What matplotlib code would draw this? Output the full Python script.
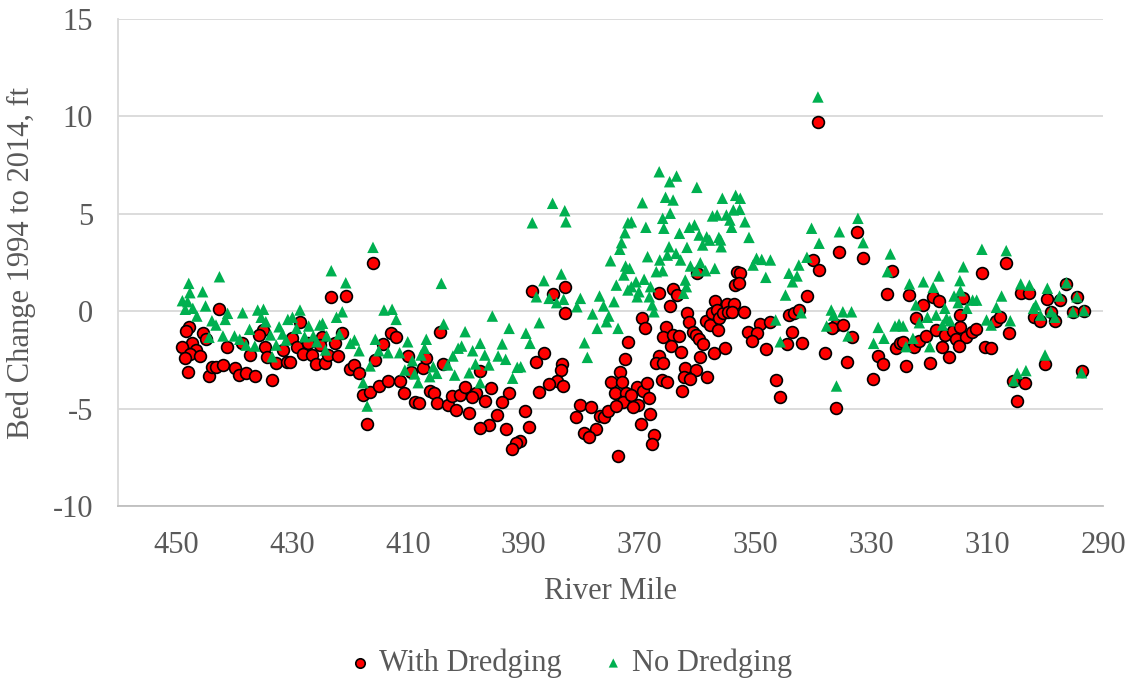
#!/usr/bin/env python3
"""Scatter of bed change 1994-2014 along the river, with and without dredging"""
import matplotlib
matplotlib.use("Agg")
import matplotlib.pyplot as plt

# With Dredging (red circles): river mile and bed change (ft)
with_mile = [
    442.6, 447.8, 448.2, 445.4, 444.9, 447.2, 448.9, 446.6, 447.6, 448.5,
    445.9, 441.2, 438.6, 437.2, 447.9, 444.3, 443.8, 443.1, 441.9, 439.9,
    439.1, 437.9, 436.4, 435.0, 435.7, 434.7, 434.3, 432.8, 431.5, 430.8,
    433.5,
    428.6, 429.9, 430.4, 429.2, 428.0, 426.5, 425.9, 424.2, 424.8, 425.2,
    423.8, 422.5, 422.1, 421.3, 427.2, 423.2, 420.7, 416.0, 412.9, 412.0,
    414.2, 415.6, 420.0, 419.2, 418.4, 417.7, 416.6, 415.0, 413.4, 411.4,
    410.7, 417.0, 410.0, 409.4, 408.8, 408.1, 407.4, 406.8, 406.2, 405.5,
    405.0, 404.4, 403.9, 403.1, 402.3, 401.6, 401.0,
    388.5, 385.0, 382.9, 382.9, 386.5, 387.9, 383.3, 383.6, 384.3, 385.6,
    383.2, 387.3, 397.5, 400.1, 398.3, 398.9, 396.7, 395.6, 392.5, 393.7,
    399.4, 394.6, 396.0, 397.5, 393.1, 389.8, 389.1, 390.6, 391.4, 392.0,
    372.0, 372.5, 373.4, 375.0, 373.1, 374.3, 372.4, 372.9, 380.3, 378.3,
    380.9, 376.9, 376.2, 375.5, 374.1, 377.5, 379.5, 378.8, 373.7,
    366.6, 364.2, 363.6, 364.8, 360.1, 369.5, 369.1, 361.8, 361.4, 365.5,
    366.0, 364.3, 363.2, 364.6, 360.8, 360.2, 359.7, 359.1, 362.8, 358.6,
    357.9, 357.4, 356.9, 356.6, 356.2, 356.5, 355.6, 354.9, 354.8, 357.1,
    355.3, 359.5, 366.6, 367.2, 366.0, 362.2, 360.3, 362.4, 361.3, 358.4,
    366.2, 365.2, 362.6, 370.4, 371.4, 369.4, 368.7, 368.4, 370.2, 371.1,
    368.1, 369.8, 367.5, 367.8,
    353.2, 352.6, 353.5, 352.8, 340.1, 339.0, 341.1, 353.7, 354.0, 352.0,
    349.2, 347.4, 351.2, 349.8, 350.5, 348.2, 344.2, 343.4, 342.5, 343.6,
    344.6, 341.9, 346.5, 345.7,
    339.2, 332.5, 335.5, 331.5, 326.5, 327.2, 323.4, 321.0, 319.4, 318.3,
    314.1, 314.6, 322.3, 336.1, 336.8, 334.9, 333.4, 338.0, 334.1, 328.9,
    328.0, 329.7, 325.7, 325.1, 324.5, 322.7, 324.0, 321.7, 320.5, 318.9,
    317.3, 315.9, 314.6, 315.3, 313.7, 314.9, 317.7, 316.6, 319.9, 336.0,
    306.7, 310.9, 312.6, 311.9, 308.4, 307.7, 306.2, 310.4, 309.3, 304.2,
    302.7, 299.6, 297.5, 296.3, 294.5, 301.9, 300.9, 299.0, 298.3, 295.1,
    293.3, 300.0, 305.5, 303.4, 304.8, 293.7,
]
with_bed = [
    0.1, -0.8, -1.0, -1.1, -1.44, -1.62, -1.82, -1.99, -2.2, -2.39,
    -2.3, -1.85, -1.62, -2.25, -3.1, -3.33, -2.85, -2.85, -2.76, -2.9,
    -3.28, -3.19, -3.31, -0.97, -1.22, -1.82, -2.34, -2.67, -1.99, -2.59,
    -3.53,
    -0.54, -1.39, -2.59, -1.85, -2.2, -2.25, -2.71, -2.64, -1.31, -1.74,
    -2.25, -1.62, -2.3, -1.13, -1.65, 0.74, 0.78, 2.46, -1.1, -1.34,
    -1.68, -2.5, -2.98, -2.76, -3.16, -4.3, -4.13, -3.84, -3.57, -3.57,
    -4.21, -5.79, -2.3, -3.11, -4.65, -4.73, -2.93, -2.42, -4.08, -4.21,
    -4.7, -1.05, -2.71, -4.81, -4.35, -5.07, -4.3,
    1.05, 0.88, 1.26, -0.08, -2.13, -2.59, -2.71, -3.02, -3.57, -3.74,
    -3.84, -4.13, -3.05, -3.88, -4.21, -4.42, -4.59, -3.96, -4.18, -4.65,
    -5.24, -5.33, -5.84, -6.01, -6.06, -5.11, -5.96, -6.65, -6.78, -7.09,
    -1.57, -2.47, -3.11, -3.62, -3.62, -4.18, -4.18, -4.65, -4.82, -4.93,
    -5.45, -5.38, -5.42, -5.11, -4.87, -6.06, -6.24, -6.47, -7.43,
    0.95, 1.12, 0.83, 0.27, 1.95, -0.36, -0.88, -0.08, -0.54, -0.83,
    -1.34, -1.22, -1.27, -1.79, -1.05, -1.22, -1.44, -1.68, -2.08, -0.49,
    -0.71, -0.11, 0.54, 0.06, -0.36, -0.97, -0.08, 0.37, -0.03, -2.13,
    -1.9, -2.37, -2.3, -2.67, -2.67, -2.93, -3.02, -3.39, -3.5, -3.36,
    -3.53, -3.62, -4.08, -3.88, -4.3, -4.08, -3.7, -4.47, -4.82, -4.9,
    -5.28, -5.79, -6.35, -6.82,
    2.03, 1.98, 1.34, 1.43, 2.63, 2.11, 0.78, 0.37, -0.03, -0.03,
    -0.66, -0.54, -1.05, -1.13, -1.51, -1.96, -0.2, -0.08, 0.06, -1.05,
    -1.68, -1.65, -3.53, -4.39,
    9.73, 4.08, 3.05, 2.72, 2.08, 0.88, 0.83, 0.32, 0.71, 0.54,
    0.66, -0.2, -0.36, -0.71, -0.88, -0.71, -1.31, -2.16, -2.59, -2.3,
    -2.71, -3.5, -1.9, -1.65, -1.57, -1.82, -2.81, -1.51, -1.27, -0.97,
    -1.22, -1.0, -0.8, -1.44, -1.31, -1.79, -1.82, -2.37, -2.64, -4.98,
    2.49, 1.98, -1.05, -0.93, -0.49, -0.31, -1.1, -1.85, -1.9, 0.92,
    0.92, 0.61, 0.57, 1.4, 0.71, -0.31, -0.49, -0.03, -0.49, -0.03,
    0.03, -2.71, -3.57, -3.67, -4.59, -3.05,
]

# No Dredging (green triangles)
no_mile = [
    447.8, 442.5, 447.6, 445.4, 448.9, 448.0, 448.4, 447.1, 444.9, 446.4,
    443.8, 443.1, 441.1, 441.5, 444.3, 441.9, 439.9, 439.0, 438.5, 435.9,
    434.9, 435.3, 434.5, 437.3, 437.9, 436.4, 433.7, 432.2, 431.6, 432.7,
    433.4, 430.7, 431.0,
    429.9, 428.6, 429.2, 427.1, 427.8, 426.3, 425.2, 424.7, 425.7, 424.0,
    424.2, 423.2, 422.3, 421.3, 420.7, 421.8, 419.9, 419.2, 418.4, 416.0,
    414.1, 412.7, 412.0, 415.6, 415.0, 413.4, 416.5, 417.7, 417.0, 411.4,
    410.0, 409.2, 407.7, 406.8, 407.1, 410.5, 408.8, 408.2, 406.2, 405.6,
    405.0, 404.2, 403.8, 403.1, 402.2, 401.9, 401.3,
    385.0, 382.9, 388.5, 382.7, 372.0, 372.5, 373.1, 373.4, 375.0, 372.4,
    372.7, 374.0, 372.0, 386.5, 383.5, 387.8, 385.6, 384.3, 383.1, 380.8,
    380.2, 376.9, 376.2, 374.4, 378.1, 375.3, 375.7, 377.3, 373.7, 379.5,
    379.0, 395.4, 392.5, 387.3, 389.6, 388.9, 400.1, 400.7, 398.8, 397.5,
    396.7, 393.7, 394.4, 393.1, 398.3, 396.0, 399.4, 391.1, 390.5, 391.9,
    397.5,
    366.6, 364.8, 363.6, 360.1, 369.5, 365.5, 364.2, 355.7, 366.0, 364.7,
    368.9, 365.8, 371.4, 363.1, 361.4, 360.5, 359.7, 358.4, 357.4, 356.6,
    355.0, 356.3, 355.9, 359.1, 357.9, 364.9, 361.8, 363.7, 362.9, 365.2,
    366.5, 368.6, 367.1, 366.0, 361.2, 359.5, 360.2, 358.6, 357.0, 371.7,
    370.6, 369.2, 371.4, 368.1, 370.1, 370.4, 368.3, 367.8, 367.5, 362.1,
    361.9, 362.4, 354.4,
    353.4, 352.6, 353.8, 352.7, 351.8, 354.1, 351.1, 356.0, 349.8, 348.9,
    350.4, 347.4, 348.2, 340.3, 339.0, 341.1, 342.5, 344.2, 342.8, 343.6,
    344.8, 346.5, 342.1, 345.7,
    339.2, 335.5, 332.3, 331.4, 326.7, 327.2, 336.9, 334.9, 333.4, 336.5,
    337.7, 334.0, 328.8, 327.8, 329.6, 336.0, 325.9, 325.2, 324.5, 323.4,
    321.0, 318.3, 319.3, 322.3, 321.7, 320.3, 318.8, 317.3, 317.0, 317.7,
    316.4, 322.8, 324.0, 319.9, 314.1, 314.7, 314.6, 315.7, 315.0, 313.5,
    310.9, 306.7, 312.5, 311.8, 307.5, 308.4, 310.1, 309.3, 306.0, 304.2,
    302.7, 299.6, 297.5, 296.3, 294.5, 301.6, 302.0, 300.8, 299.0, 298.3,
    295.2, 293.3, 300.0, 304.8, 303.3, 305.4, 293.7,
]
no_bed = [
    1.43, 1.77, 0.95, 1.0, 0.54, 0.49, 0.1, 0.15, 0.27, -0.25,
    -0.49, -0.71, -0.11, -0.42, -1.34, -1.27, -1.27, -1.44, -0.08, 0.06,
    0.1, -0.31, -0.54, -0.93, -1.74, -1.79, -1.22, -0.8, -1.17, -1.74,
    -2.34, -0.42, -1.48,
    -0.31, 0.06, -0.88, -0.76, -1.31, -1.27, -0.71, -0.62, -1.57, -1.27,
    -1.99, 2.08, -0.31, -0.03, 1.46, -1.17, -1.65, -1.48, -2.03, 3.28,
    0.06, 0.1, -0.42, -1.44, -2.03, -2.13, -2.81, -3.67, -4.87, -2.13,
    -1.57, -2.54, -2.25, -1.44, -1.9, -3.02, -3.22, -3.67, -3.36, -2.85,
    -3.19, 1.43, -0.66, -2.76, -2.3, -3.28, -1.9,
    5.54, 5.16, 4.54, 4.59, 4.54, 4.03, 3.52, 3.18, 2.59, 2.32,
    1.86, 1.34, 1.09, 1.57, 1.91, 0.74, 0.66, 0.44, 0.61, 0.23,
    0.66, 0.78, 0.27, 0.49, -0.14, -0.25, -0.54, -0.88, -0.88, -1.62,
    -2.37, -0.25, -0.88, -0.59, -1.13, -1.65, -1.05, -1.79, -2.03, -1.65,
    -2.25, -1.68, -2.3, -2.47, -2.71, -2.76, -3.16, -2.88, -2.85, -3.44,
    -3.67,
    7.16, 6.65, 6.94, 6.36, 5.57, 5.85, 5.71, 5.8, 4.77, 5.03,
    4.31, 4.26, 4.59, 4.0, 4.31, 4.43, 3.91, 3.82, 4.89, 4.94,
    4.94, 3.79, 3.31, 3.4, 3.65, 3.31, 3.28, 2.97, 2.63, 2.88,
    2.63, 2.8, 2.03, 2.08, 2.32, 2.49, 2.08, 2.08, 2.2, 2.2,
    1.51, 1.64, 1.26, 1.26, 1.0, 0.74, 0.74, 0.32, -0.03, 1.6,
    1.26, 0.92, 4.68,
    5.95, 5.8, 5.2, 5.23, 4.59, 4.31, 3.79, 3.66, 2.72, 2.66,
    2.37, 2.63, 1.74, 4.26, 3.49, 2.77, 2.37, 1.95, 1.81, 1.51,
    0.83, -0.45, -0.08, -1.57,
    11.0, 4.08, 4.77, 3.52, 2.94, 2.03, 0.06, -0.03, -0.03, -0.2,
    -0.76, -1.27, -0.83, -1.39, -1.65, -3.84, -0.76, -0.66, -0.76, 1.4,
    1.51, 1.81, 1.23, 0.32, -0.59, -0.31, -0.2, 0.15, -0.36, -0.71,
    -0.49, -1.39, -1.82, -1.82, 2.28, 1.57, 1.05, 0.78, 0.44, 0.15,
    3.18, 3.11, 0.57, 0.57, 0.78, 0.2, -0.45, -0.71, -0.49, 1.4,
    1.34, 1.18, 0.78, 1.46, 0.74, 0.32, 0.15, -0.2, -0.03, -0.31,
    -0.03, 0.03, -2.25, -3.19, -3.05, -3.57, -3.16,
]

x_ticks = [450, 430, 410, 390, 370, 350, 330, 310, 290]
y_ticks = [-10, -5, 0, 5, 10, 15]

TEXT = "#595959"
GRID = "#D9D9D9"
plt.rcParams["font.family"] = ["Liberation Serif", "DejaVu Serif"]
plt.rcParams["axes.unicode_minus"] = False

fig = plt.figure(figsize=(11.33, 6.81), dpi=100)
ax = fig.add_axes([0.1042, 0.257, 0.8693, 0.715])

ax.scatter(with_mile, with_bed, s=72, marker="o", facecolor="#FF0000",
           edgecolor="black", linewidth=1.2, label="With Dredging", zorder=3)
ax.scatter(no_mile, no_bed, s=68, marker="^", facecolor="#00B050",
           edgecolor="none", label="No Dredging", zorder=4)

# reversed river-mile axis
ax.set_xlim(460, 290)
ax.set_ylim(-10, 15)
ax.set_xticks(x_ticks)
ax.set_yticks(y_ticks)
ax.tick_params(length=0, labelsize=22, labelcolor=TEXT)
ax.tick_params(axis="x", pad=18)
ax.tick_params(axis="y", pad=18)

ax.grid(axis="y", color=GRID, linewidth=1.3, zorder=0)
ax.set_axisbelow(True)
for side in ["top", "right"]:
    ax.spines[side].set_visible(False)
ax.spines["left"].set_color(GRID)
ax.spines["left"].set_linewidth(1.3)
ax.spines["bottom"].set_color("#BFBFBF")
ax.spines["bottom"].set_linewidth(1.3)

ax.set_xlabel("River Mile", fontsize=22, color=TEXT, labelpad=12)
ax.set_ylabel("Bed Change 1994 to 2014, ft", fontsize=22, color=TEXT,
              labelpad=12)

fig.legend(loc="center", bbox_to_anchor=(0.503, 0.026), ncol=2,
           frameon=False, fontsize=22, labelcolor=TEXT, markerscale=0.8,
           handlelength=0.8, handletextpad=0.2, columnspacing=1.3)

fig.savefig("out.png", dpi=100)
